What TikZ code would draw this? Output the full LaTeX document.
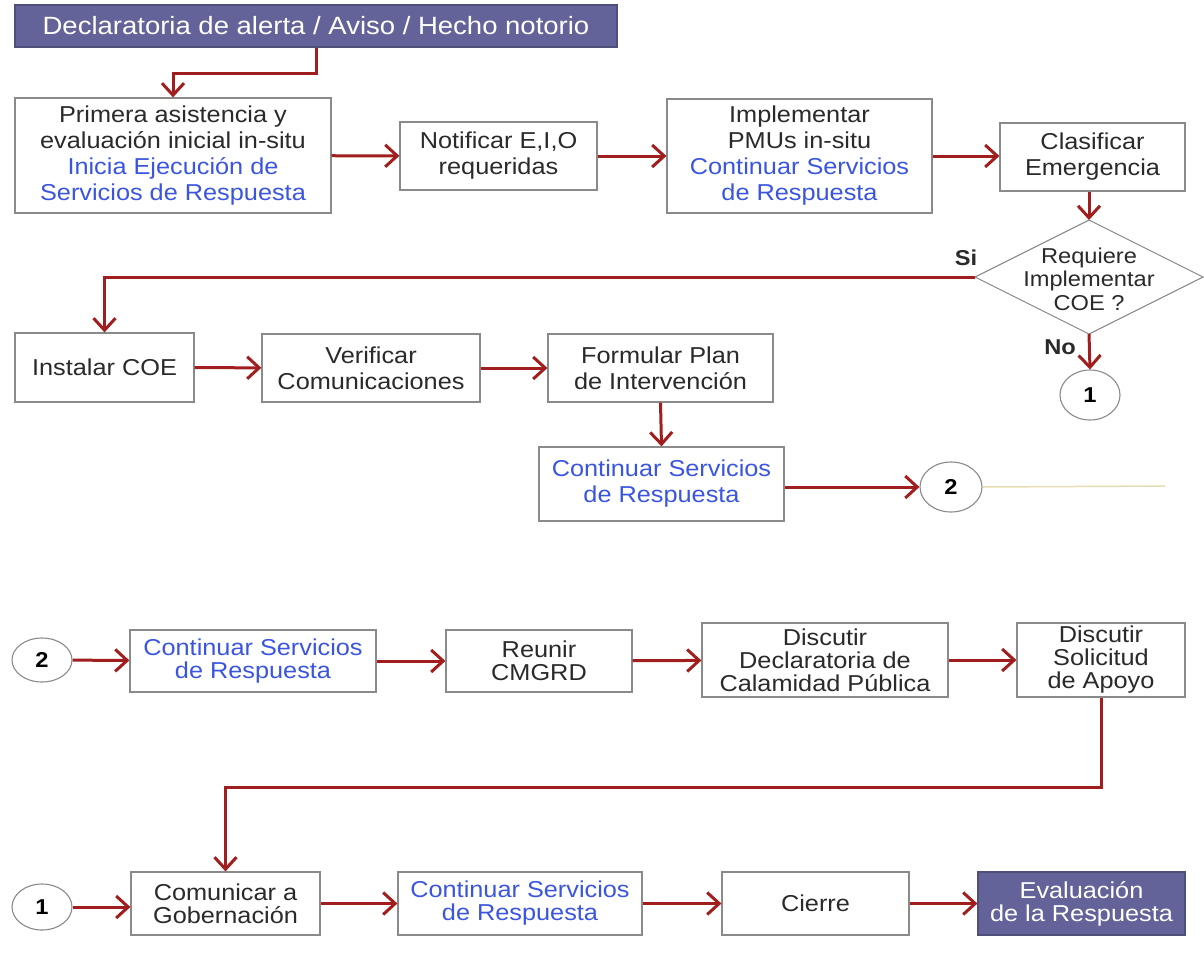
\documentclass[tikz,border=0pt]{standalone}
\usepackage{fontspec}
\setmainfont{Liberation Sans}[FakeStretch=1.1]
\usetikzlibrary{arrows.meta,calc,shapes.geometric}
\definecolor{arrred}{HTML}{A11E1E}
\definecolor{boxgray}{HTML}{8A8A8A}
\definecolor{purp}{HTML}{63639A}
\definecolor{txtblue}{HTML}{3A55E0}
\definecolor{txtgray}{HTML}{2A2A2A}
\definecolor{faint}{HTML}{E6DDB4}
\newcommand{\bl}[1]{\textcolor{txtblue}{#1}}
\tikzset{
  box/.style={draw=boxgray, line width=1.2pt, fill=white, align=center, inner sep=0pt,
    text=txtgray, font=\fontsize{23}{26}\selectfont},
  boxb/.style={box, font=\fontsize{23}{23}\selectfont},
  pbox/.style={box, fill=purp, draw=purp!80!black, text=white},
  circ/.style={draw=boxgray, line width=1.1pt, ellipse, fill=white, inner sep=0pt,
    font=\fontsize{21.5}{22}\selectfont\bfseries},
  arr/.style={draw=arrred, line width=3pt, -{Straight Barb[length=12pt,width=22pt]}},
  lbl/.style={font=\fontsize{21.5}{22}\selectfont\bfseries, text=txtgray},
}
\begin{document}
\begin{tikzpicture}[x=1pt,y=-1pt]
\useasboundingbox (0,0) rectangle (1204,969);
% row 1
\node[pbox, minimum width=602, minimum height=42, font=\fontsize{25}{26}\selectfont] (title) at (316,26) {Declaratoria de alerta / Aviso / Hecho notorio};
\node[box, minimum width=316, minimum height=115] (b1) at (173,155.5) {Primera asistencia y\\evaluación inicial in-situ\\\bl{Inicia Ejecución de}\\\bl{Servicios de Respuesta}};
\node[box, minimum width=197, minimum height=68] (b2) at (498.5,156) {Notificar E,I,O\\requeridas};
\node[box, minimum width=265, minimum height=114] (b3) at (799.5,156) {Implementar\\PMUs in-situ\\\bl{Continuar Servicios}\\\bl{de Respuesta}};
\node[box, minimum width=185, minimum height=68] (b4) at (1092.5,157) {Clasificar\\Emergencia};
% decision
\coordinate (dN) at (1089,220);
\coordinate (dS) at (1089,334);
\coordinate (dW) at (975,277);
\coordinate (dE) at (1203,277);
\draw[boxgray, line width=1.1pt, fill=white] (dN) -- (dE) -- (dS) -- (dW) -- cycle;
\node[align=center, text=txtgray, inner sep=0pt, font=\fontsize{21.5}{23.5}\selectfont] (dia) at (1089,279) {Requiere\\Implementar\\COE ?};
\node[circ, minimum width=60, minimum height=50] (c1a) at (1090,395) {1};
\node[lbl] (si) at (966,258) {Si};
\node[lbl] (no) at (1060,347) {No};
% row 2
\node[box, minimum width=179, minimum height=69] (inst) at (104.5,367.5) {Instalar COE};
\node[box, minimum width=218, minimum height=68] (ver) at (371,368) {Verificar\\Comunicaciones};
\node[box, minimum width=225, minimum height=68] (form) at (660.5,368) {Formular Plan\\de Intervención};
\node[box, minimum width=245, minimum height=74] (cont1) at (661.5,484) {\bl{Continuar Servicios}\\\bl{de Respuesta}};
\node[circ, minimum width=62, minimum height=50] (c2a) at (951,487) {2};
\coordinate (fend) at (1165,486);
% row 3
\node[circ, minimum width=60, minimum height=44] (c2b) at (42,660) {2};
\node[boxb, minimum width=246, minimum height=62] (cont2) at (253,661) {\bl{Continuar Servicios}\\\bl{de Respuesta}};
\node[boxb, minimum width=186, minimum height=62] (reu) at (539,661) {Reunir\\CMGRD};
\node[boxb, minimum width=246, minimum height=74] (dec) at (825,660) {Discutir\\Declaratoria de\\Calamidad Pública};
\node[boxb, minimum width=168, minimum height=74] (sol) at (1101,660) {Discutir\\Solicitud\\de Apoyo};
% row 4
\node[circ, minimum width=60, minimum height=46] (c1b) at (42,907) {1};
\node[boxb, minimum width=189, minimum height=63] (com) at (225.5,903.5) {Comunicar a\\Gobernación};
\node[boxb, minimum width=244, minimum height=63] (cont3) at (520,903.5) {\bl{Continuar Servicios}\\\bl{de Respuesta}};
\node[boxb, minimum width=187, minimum height=63] (cie) at (815.5,903.5) {Cierre};
\node[boxb, fill=purp, draw=purp!80!black, text=white, minimum width=207, minimum height=63] (eva) at (1081.5,903.5) {Evaluación\\de la Respuesta};
% connectors
\draw[arr] (title.south) -- ++(0,26) -| (b1.north);
\draw[arr] (b1) -- (b2);
\draw[arr] (b2) -- (b3);
\draw[arr] (b3.east |- b2) -- (b4.west |- b2);
\draw[arr] (b4.south -| dN) -- (dN);
\draw[arr] (dW) -| (inst.north);
\draw[arr] (dS) -- (c1a.north);
\draw[arr] (inst) -- (ver);
\draw[arr] (ver) -- (form);
\draw[arr] (form.south) -- (cont1.north);
\draw[arr] (cont1.east |- c2a) -- (c2a.west);
\draw[faint, line width=1.5pt] (c2a.east) -- (fend);
\draw[arr] (c2b) -- (cont2);
\draw[arr] (cont2) -- (reu);
\draw[arr] (reu) -- (dec);
\draw[arr] (dec) -- (sol);
\draw[arr] (sol.south) -- ++(0,90) -| (com.north);
\draw[arr] (c1b) -- (com.west |- c1b);
\draw[arr] (com) -- (cont3);
\draw[arr] (cont3) -- (cie);
\draw[arr] (cie) -- (eva);
\end{tikzpicture}
\end{document}
